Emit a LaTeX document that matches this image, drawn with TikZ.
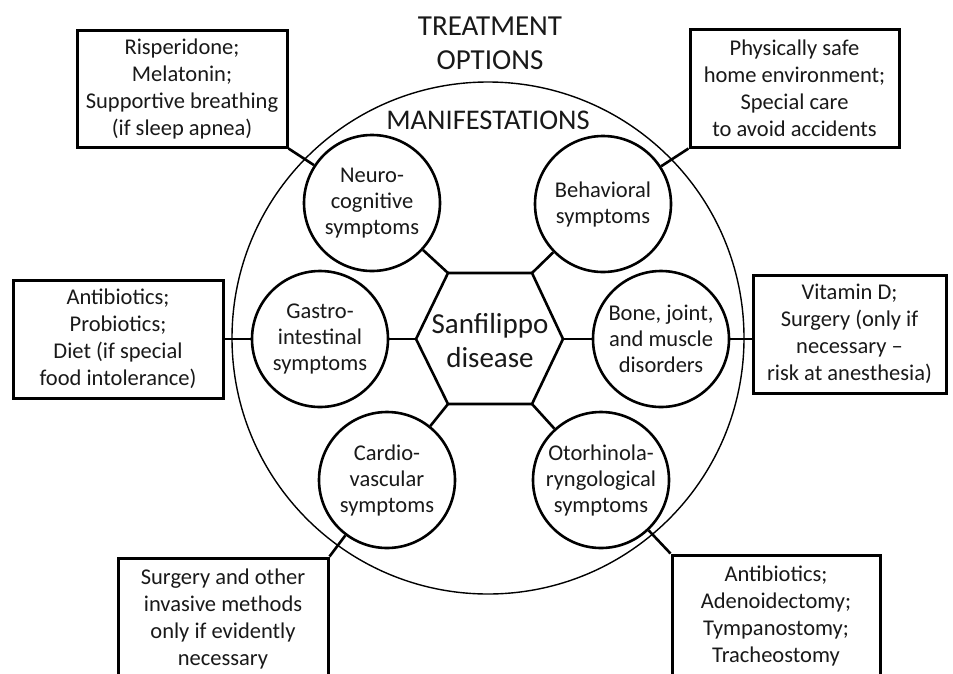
\documentclass[tikz,border=0pt]{standalone}
\usepackage{fontspec}
\setmainfont{Carlito}
\begin{document}
\begin{tikzpicture}[x=1pt,y=-1pt,
  txt/.style={text=black!90, align=center},
  circ/.style={draw, circle, line width=2.6pt, minimum size=136pt, inner sep=0pt, txt, font=\fontsize{22.5}{26}\selectfont},
  tbox/.style={draw, rectangle, line width=3pt, inner sep=0pt, txt, font=\fontsize{22.5}{27}\selectfont},
  conn/.style={line width=2.6pt},
  bigring/.style={draw, circle, line width=1.4pt, minimum size=512pt, inner sep=0pt}
]
\useasboundingbox (0,0) rectangle (953,673);
\clip (0,0) rectangle (953,673);
\fill[white] (0,0) rectangle (953,673);

% outer ring
\node[bigring] (ring) at (488,338) {};

% titles
\node[txt, font=\fontsize{29}{34}\selectfont] (title) at (490,43) {TREATMENT\\OPTIONS};
\node[txt, font=\fontsize{28.5}{32}\selectfont] (manif) at (488,120) {MANIFESTATIONS};

% hexagon
\coordinate (hTL) at (448,273);
\coordinate (hTR) at (532,273);
\coordinate (hR)  at (563,339);
\coordinate (hBR) at (532,404);
\coordinate (hBL) at (448,404);
\coordinate (hL)  at (416,339);
\draw[line width=2.6pt, line join=miter] (hTL) -- (hTR) -- (hR) -- (hBR) -- (hBL) -- (hL) -- cycle;
\node[txt, font=\fontsize{29}{34}\selectfont] (center) at (490,341) {Sanfilippo\\disease};

% manifestation circles
\node[circ] (neuro)  at (372,203) {Neuro-\\cognitive\\symptoms};
\node[circ] (behav)  at (603,204) {Behavioral\\symptoms};
\node[circ] (gastro) at (320,339) {Gastro-\\intestinal\\symptoms};
\node[circ] (bone)   at (661,339) {Bone, joint,\\and muscle\\disorders};
\node[circ] (cardio) at (387,480) {Cardio-\\vascular\\symptoms};
\node[circ] (otor)   at (601,480) {Otorhinola-\\ryngological\\symptoms};

% treatment boxes
\node[tbox, minimum width=210pt, minimum height=117pt] (tNeuro) at (182,88.5)
  {Risperidone;\\Melatonin;\\Supportive breathing\\(if sleep apnea)};
\node[tbox, minimum width=209pt, minimum height=118pt] (tBehav) at (794.5,88)
  {Physically safe\\home environment;\\Special care\\to avoid accidents};
\node[tbox, minimum width=210pt, minimum height=118pt] (tGastro) at (118,339)
  {Antibiotics;\\Probiotics;\\Diet (if special\\food intolerance)};
\node[tbox, minimum width=193pt, minimum height=118pt] (tBone) at (849.5,334)
  {Vitamin D;\\Surgery (only if\\necessary --\\risk at anesthesia)};
\node[tbox, minimum width=210pt, minimum height=122pt] (tCardio) at (223,619)
  {Surgery and other\\invasive methods\\only if evidently\\necessary};
\node[tbox, minimum width=208pt, minimum height=122pt] (tOtor) at (776,616)
  {Antibiotics;\\Adenoidectomy;\\Tympanostomy;\\Tracheostomy};

% inner connectors
\draw[conn] (neuro) -- (hTL);
\draw[conn] (behav) -- (hTR);
\draw[conn] (gastro) -- (hL);
\draw[conn] (bone) -- (hR);
\draw[conn] (cardio) -- (hBL);
\draw[conn] (otor) -- (hBR);

% outer connectors
\draw[conn] (neuro) -- (tNeuro.south east);
\draw[conn] (behav) -- (tBehav.south west);
\draw[conn] (gastro.west) -- (tGastro.east);
\draw[conn] (bone.east) -- (tBone.west |- bone.east);
\draw[conn] (cardio) -- (tCardio.north east);
\draw[conn] (otor) -- (tOtor.north west);
\end{tikzpicture}
\end{document}
